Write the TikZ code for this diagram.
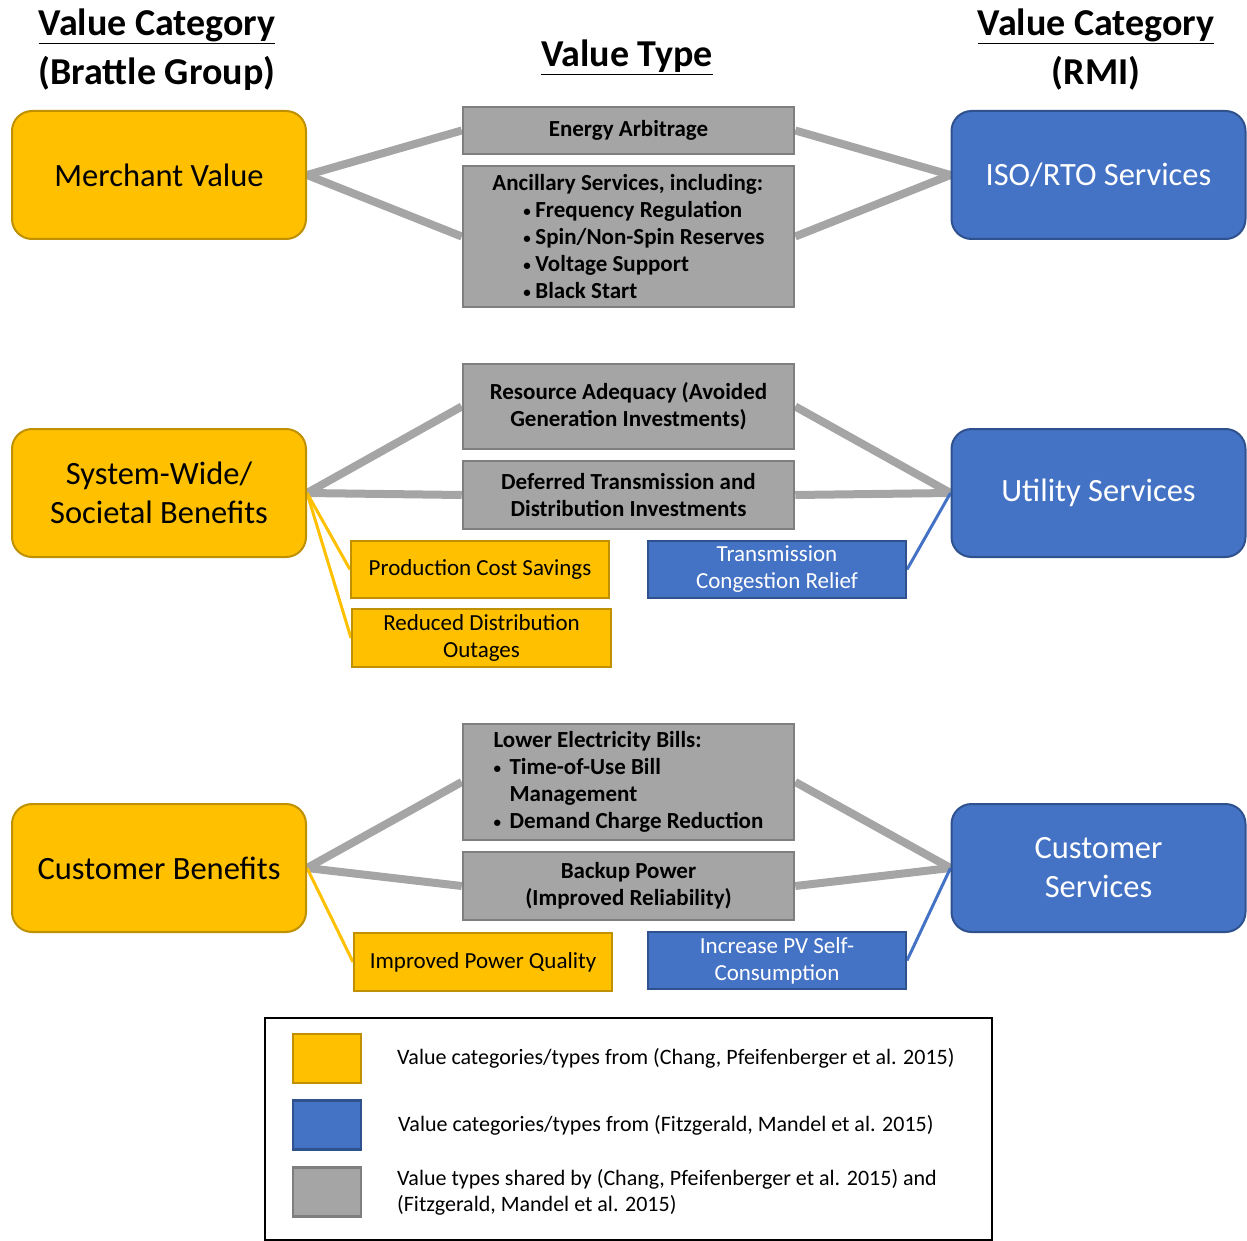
\documentclass[tikz,border=0pt]{standalone}
\usepackage{fontspec}
\setmainfont{Carlito}
\usetikzlibrary{backgrounds}
\definecolor{ygold}{HTML}{FFC000}
\definecolor{ygoldd}{HTML}{BF9000}
\definecolor{bblue}{HTML}{4472C4}
\definecolor{bblued}{HTML}{2F528F}
\definecolor{ggray}{HTML}{A5A5A5}
\definecolor{ggrayd}{HTML}{7F7F7F}
\newcommand{\smbul}{\raisebox{1pt}{\fontsize{15}{15}\selectfont\textbullet}}
\begin{document}
\begin{tikzpicture}[x=1pt,y=-1pt,
  bigy/.style={draw=ygoldd, fill=ygold, line width=2pt, rounded corners=20pt, minimum width=294pt, minimum height=128pt, inner sep=0pt, align=center, font=\fontsize{32.5}{39}\selectfont},
  bigb/.style={bigy, draw=bblued, fill=bblue, text=white},
  gbox/.style={draw=ggrayd, fill=ggray, line width=2.5pt, minimum width=331pt, inner sep=0pt, align=center, font=\bfseries\fontsize{23}{27}\selectfont},
  sy/.style={draw=ygoldd, fill=ygold, line width=2pt, minimum width=258pt, minimum height=57pt, inner sep=0pt, align=center, font=\fontsize{23}{27}\selectfont},
  sb/.style={sy, draw=bblued, fill=bblue, text=white},
  gline/.style={draw=ggray, line width=8pt},
  yline/.style={draw=ygold, line width=3pt},
  bline/.style={draw=bblue, line width=3pt},
  head/.style={font=\bfseries\fontsize{38}{44}\selectfont, inner sep=0pt},
  legsq/.style={line width=2.5pt, minimum width=68pt, minimum height=49pt, inner sep=0pt},
  legtxt/.style={anchor=west, align=left, inner sep=0pt, font=\fontsize{22}{26}\selectfont}
]
\useasboundingbox (0,0) rectangle (1247,1241);
% headers
\node[head] (h1) at (157,26) {\underline{Value Category}};
\node[head] (h2) at (157,73) {(Brattle Group)};
\node[head] (h3) at (627,57) {\underline{Value Type}};
\node[head] (h4) at (1096,26) {\underline{Value Category}};
\node[head] (h5) at (1096,73) {(RMI)};
% category boxes
\node[bigy] (mv) at (159,175) {Merchant Value};
\node[bigy] (sw) at (159,493) {System-Wide/\\Societal Benefits};
\node[bigy] (cb) at (159,868) {Customer Benefits};
\node[bigb] (iso) at (1098.5,175) {ISO/RTO Services};
\node[bigb] (us) at (1098.5,493) {Utility Services};
\node[bigb] (cs) at (1098.5,868) {Customer\\Services};
% gray value types
\node[gbox, minimum height=47pt] (ea) at (628.5,130.5) {Energy Arbitrage};
\node[gbox, minimum height=141pt, align=left] (anc) at (628.5,236.5) {Ancillary Services, including:\\
\hspace*{31pt}\makebox[12pt][l]{\smbul}Frequency Regulation\\
\hspace*{31pt}\makebox[12pt][l]{\smbul}Spin/Non-Spin Reserves\\
\hspace*{31pt}\makebox[12pt][l]{\smbul}Voltage Support\\
\hspace*{31pt}\makebox[12pt][l]{\smbul}Black Start};
\node[gbox, minimum height=85pt] (ra) at (628.5,406.5) {Resource Adequacy (Avoided\\Generation Investments)};
\node[gbox, minimum height=68pt] (dt) at (628.5,495) {Deferred Transmission and\\Distribution Investments};
\node[gbox, minimum height=116pt, align=left] (leb) at (628.5,782) {Lower Electricity Bills:\\
\makebox[16pt][l]{\smbul}Time-of-Use Bill\\
\hspace*{16pt}Management\\
\makebox[16pt][l]{\smbul}Demand Charge Reduction};
\node[gbox, minimum height=68pt] (bp) at (628.5,886) {Backup Power\\(Improved Reliability)};
% small boxes
\node[sy] (pcs) at (480,569.5) {Production Cost Savings};
\node[sy, minimum width=259pt, minimum height=58pt] (rdo) at (481.5,638) {Reduced Distribution\\Outages};
\node[sy, minimum height=58pt] (ipq) at (483,962) {Improved Power Quality};
\node[sb] (tcr) at (777,569.5) {Transmission\\Congestion Relief};
\node[sb] (ipv) at (777,960.5) {Increase PV Self-\\Consumption};
% connectors
\begin{scope}[on background layer]
\draw[gline] (mv.east) -- (ea.west);
\draw[gline] (mv.east) -- (anc.west);
\draw[gline] (iso.west) -- (ea.east);
\draw[gline] (iso.west) -- (anc.east);
\draw[gline] (sw.east) -- (ra.west);
\draw[gline] (sw.east) -- (dt.west);
\draw[gline] (us.west) -- (ra.east);
\draw[gline] (us.west) -- (dt.east);
\draw[gline] (cb.east) -- (leb.west);
\draw[gline] (cb.east) -- (bp.west);
\draw[gline] (cs.west) -- (leb.east);
\draw[gline] (cs.west) -- (bp.east);
\draw[yline] (sw.east) -- (pcs.west);
\draw[yline] (sw.east) -- (rdo.west);
\draw[yline] (cb.east) -- (ipq.west);
\draw[bline] (us.west) -- (tcr.east);
\draw[bline] (cs.west) -- (ipv.east);
\end{scope}
% legend
\node[draw=black, line width=2pt, minimum width=727pt, minimum height=222pt, inner sep=0pt] (leg) at (628.5,1129) {};
\node[legsq, draw=ygoldd, fill=ygold] (ly) at (327,1058.5) {};
\node[legsq, draw=bblued, fill=bblue] (lb) at (327,1125) {};
\node[legsq, draw=ggrayd, fill=ggray] (lg) at (327,1192) {};
\node[legtxt] (ty) at (397,1058) {Value categories/types from (Chang, Pfeifenberger et al. 2015)};
\node[legtxt] (tb) at (398,1125) {Value categories/types from (Fitzgerald, Mandel et al. 2015)};
\node[legtxt] (tg) at (397,1192) {Value types shared by (Chang, Pfeifenberger et al. 2015) and\\(Fitzgerald, Mandel et al. 2015)};
\end{tikzpicture}
\end{document}
